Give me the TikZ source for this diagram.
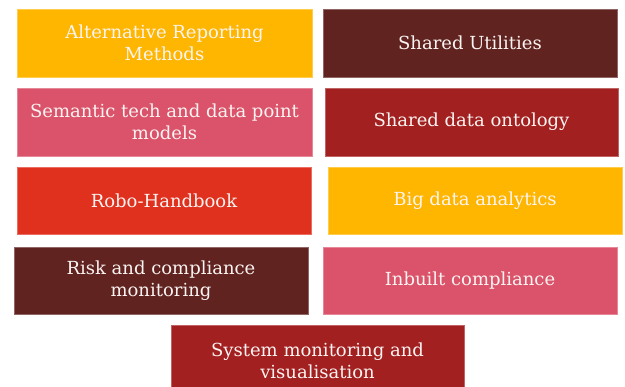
\documentclass[tikz,border=0pt]{standalone}
\usepackage{fontspec}
\setmainfont{DejaVu Serif}
\definecolor{pwcyellow}{HTML}{FFB600}
\definecolor{pwcpink}{HTML}{DB536A}
\definecolor{pwcred}{HTML}{E0301E}
\definecolor{pwcbrown}{HTML}{602320}
\definecolor{pwcdred}{HTML}{A32020}
\definecolor{txt}{HTML}{FBF4F2}
\begin{document}
\begin{tikzpicture}[x=1pt,y=-1pt,
  box/.style={rectangle, inner sep=0pt, outer sep=0pt, align=center,
    text=txt, font=\fontsize{18}{22}\selectfont, line width=0.6pt},
  yel/.style={box, fill=pwcyellow, draw=pwcyellow!70!white},
  pink/.style={box, fill=pwcpink, draw=pwcpink!70!white},
  red/.style={box, fill=pwcred, draw=pwcred!70!white},
  brown/.style={box, fill=pwcbrown, draw=pwcbrown!70!white},
  dred/.style={box, fill=pwcdred, draw=pwcdred!70!white}]
\clip (0,0) rectangle (625,387);
\fill[white] (0,0) rectangle (625,387);
\node[yel, minimum width=295pt, minimum height=68pt] (alt) at (164.5,43) {Alternative Reporting\\Methods};
\node[brown, minimum width=294pt, minimum height=68pt] (util) at (470,43) {Shared Utilities};
\node[pink, minimum width=295pt, minimum height=68pt] (sem) at (164.5,122) {Semantic tech and data point\\models};
\node[dred, minimum width=293pt, minimum height=68pt] (onto) at (471.5,122) {Shared data ontology};
\node[red, minimum width=294pt, minimum height=67pt] (robo) at (164,200.5) {Robo-Handbook};
\node[yel, minimum width=294pt, minimum height=67pt] (big) at (475,200.5) {Big data analytics};
\node[brown, minimum width=294pt, minimum height=67pt] (risk) at (161,280.5) {Risk and compliance\\monitoring};
\node[pink, minimum width=294pt, minimum height=67pt] (inb) at (470,280.5) {Inbuilt compliance};
\node[dred, minimum width=293pt, minimum height=72pt] (sys) at (317.5,361) {System monitoring and\\visualisation};
\end{tikzpicture}
\end{document}
